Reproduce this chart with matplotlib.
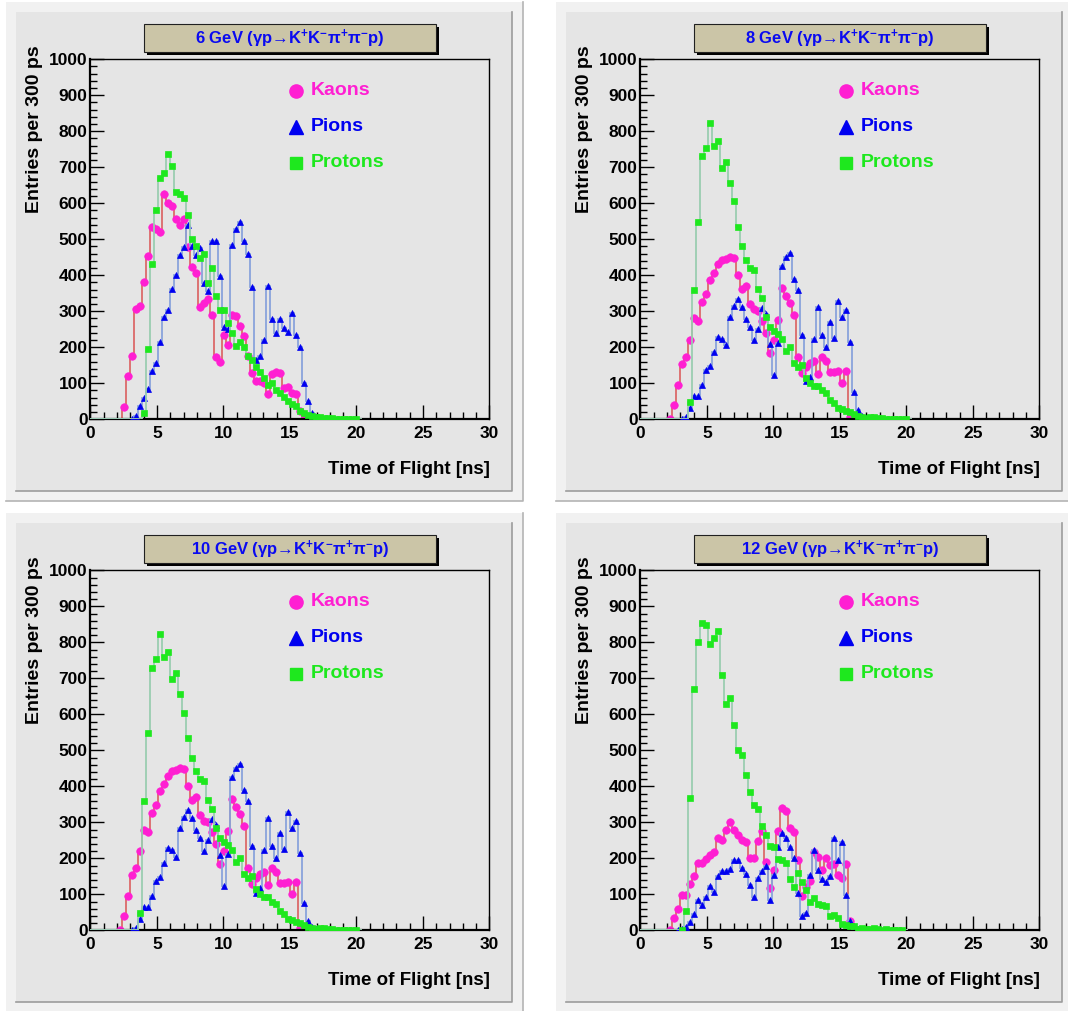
import numpy as np
import matplotlib
matplotlib.use("Agg")
import matplotlib.pyplot as plt
from matplotlib.patches import Rectangle
from matplotlib.lines import Line2D

plt.rcParams['font.family'] = ['Liberation Sans', 'DejaVu Sans']
plt.rcParams['font.weight'] = 'bold'
plt.rcParams['mathtext.fontset'] = 'custom'
plt.rcParams['mathtext.rm'] = 'Liberation Sans:bold'
plt.rcParams['mathtext.bf'] = 'Liberation Sans:bold'
plt.rcParams['mathtext.default'] = 'bf'

W, H = 1068, 1011
bin_w = 0.3  # ns per bin (300 ps)

beam_energies = ['6', '8', '10', '12']

# entries per bin; *_first is the index of the first listed bin
kaons_6_first = 8
kaons_6 = [35, 120, 177, 307, 315, 382, 454, 533, 528, 521, 626, 602, 592, 557, 539,
           557, 478, 424, 406, 313, 323, 335, 291, 174, 158, 234, 205, 289, 287, 260,
           231, 175, 128, 105, 105, 100, 70, 125, 131, 128, 86, 91, 72, 70, 24, 1]
pions_6_first = 10
pions_6 = [1, 10, 36, 59, 85, 133, 157, 214, 283, 303, 361, 401, 456, 478, 541, 481,
           456, 475, 379, 355, 494, 495, 399, 255, 250, 483, 529, 547, 494, 458, 368,
           166, 176, 220, 370, 278, 241, 278, 253, 243, 296, 234, 200, 100, 51, 17, 5, 2]
protons_6_first = 13
protons_6 = [17, 195, 431, 580, 670, 685, 736, 704, 630, 626, 614, 568, 501, 480, 447,
             459, 378, 419, 342, 304, 304, 268, 241, 204, 215, 200, 175, 166, 146, 132,
             116, 95, 102, 81, 72, 63, 52, 42, 37, 23, 17, 12, 8, 6, 5, 4, 3, 3, 2, 2,
             2, 1, 1, 2]

kaons_8_first = 7
kaons_8 = [1, 39, 96, 154, 173, 220, 280, 272, 327, 348, 386, 407, 430, 443, 445, 452,
           449, 400, 363, 371, 321, 305, 300, 272, 240, 183, 220, 277, 364, 342, 324,
           291, 172, 129, 146, 157, 163, 125, 174, 163, 131, 131, 133, 102, 135, 7, 1]
pions_8_first = 10
pions_8 = [1, 7, 32, 66, 66, 94, 136, 147, 186, 229, 222, 205, 284, 314, 334, 313, 279,
           257, 219, 250, 310, 292, 209, 123, 211, 427, 452, 463, 390, 358, 234, 105,
           118, 222, 313, 234, 202, 269, 227, 329, 285, 304, 214, 76, 26, 9, 3]
protons_8_first = 12
protons_8 = [49, 359, 547, 730, 753, 822, 760, 774, 697, 714, 657, 605, 535, 480, 443,
             419, 415, 362, 336, 285, 257, 245, 237, 223, 189, 200, 156, 146, 151, 114,
             102, 93, 93, 80, 74, 54, 46, 31, 28, 23, 19, 14, 9, 6, 4, 6, 6, 3, 3, 2, 2,
             2, 2, 2, 2]

kaons_10_first = 7
kaons_10 = [1, 39, 96, 154, 173, 220, 280, 272, 327, 348, 386, 407, 430, 443, 445, 452,
            449, 400, 363, 371, 321, 305, 300, 272, 240, 183, 220, 277, 364, 342, 324,
            291, 172, 129, 146, 157, 163, 125, 174, 163, 131, 131, 133, 102, 135, 7, 1]
pions_10_first = 10
pions_10 = [1, 7, 32, 66, 66, 94, 136, 147, 186, 229, 222, 205, 284, 314, 334, 313, 279,
            257, 219, 250, 310, 292, 209, 123, 211, 427, 452, 463, 390, 358, 234, 105,
            118, 222, 313, 234, 202, 269, 227, 329, 285, 304, 214, 76, 26, 9, 3]
protons_10_first = 12
protons_10 = [49, 359, 547, 730, 753, 822, 760, 774, 697, 714, 657, 605, 535, 480, 443,
              419, 415, 362, 336, 285, 257, 245, 237, 223, 189, 200, 156, 146, 151, 114,
              102, 93, 93, 80, 74, 54, 46, 31, 28, 23, 19, 14, 9, 6, 4, 6, 6, 3, 3, 2, 2,
              2, 2, 2, 2]

kaons_12_first = 7
kaons_12 = [2, 34, 59, 97, 97, 129, 150, 187, 187, 198, 208, 218, 256, 252, 280, 302,
            279, 266, 252, 244, 200, 202, 249, 275, 190, 118, 168, 276, 341, 332, 284,
            273, 196, 94, 120, 136, 217, 205, 167, 201, 182, 185, 155, 145, 185, 25, 1]
pions_12_first = 9
pions_12 = [1, 4, 9, 22, 46, 83, 71, 93, 122, 106, 150, 164, 164, 169, 194, 194, 173,
            157, 127, 93, 145, 164, 180, 83, 155, 231, 270, 256, 231, 201, 104, 39, 48,
            155, 222, 167, 143, 133, 150, 256, 194, 244, 99, 25, 11, 4]
protons_12_first = 10
protons_12 = [1, 55, 368, 669, 801, 854, 847, 796, 812, 831, 710, 630, 645, 571, 502,
              486, 432, 383, 349, 337, 291, 266, 234, 232, 199, 195, 186, 143, 119, 158,
              134, 113, 80, 89, 74, 71, 68, 40, 43, 33, 18, 16, 13, 11, 4, 6, 5, 4, 6, 5,
              2, 3, 2, 2, 2, 2]

species = ['Kaons', 'Pions', 'Protons']
marker_shapes = ['o', '^', 's']
marker_colors = ['#ff1fd2', '#0000f0', '#1ee81e']
line_colors = ['#dc6a6a', '#8aa3dc', '#9acdb0']
marker_px = [5.4, 4.8, 4.4]

panels = [
    ((kaons_6_first, kaons_6), (pions_6_first, pions_6), (protons_6_first, protons_6)),
    ((kaons_8_first, kaons_8), (pions_8_first, pions_8), (protons_8_first, protons_8)),
    ((kaons_10_first, kaons_10), (pions_10_first, pions_10), (protons_10_first, protons_10)),
    ((kaons_12_first, kaons_12), (pions_12_first, pions_12), (protons_12_first, protons_12)),
]
offsets = [(0, 0), (550, 0), (0, 511), (550, 511)]


def fx(x):
    return x / W


def fy(y):
    return 1 - y / H


def box(fig, x0, y0, x1, y1, face, edge=None, z=-5, lw=1.0):
    r = Rectangle((fx(x0), fy(y1)), fx(x1) - fx(x0), fy(y0) - fy(y1),
                  transform=fig.transFigure, facecolor=face,
                  edgecolor=edge if edge else 'none', lw=lw, zorder=z)
    fig.add_artist(r)


def shade(fig, x0, y0, x1, y1, col, z=-4):
    # darker right and bottom edges of a pad
    fig.add_artist(Line2D([fx(x1), fx(x1), fx(x0)], [fy(y0), fy(y1), fy(y1)],
                          transform=fig.transFigure, color=col, lw=1.2, zorder=z))


def draw_hist(ax, first, vals, i):
    vals = np.asarray(vals, dtype=float)
    full = np.zeros(first + len(vals) + 1)
    full[first:first + len(vals)] = vals
    edges = np.arange(len(full) + 1) * bin_w
    ax.stairs(full, edges, baseline=None, color=line_colors[i], lw=1.3, zorder=2 + i)
    centers = (np.arange(first, first + len(vals)) + 0.5) * bin_w
    ax.plot(centers, vals, ls='none', marker=marker_shapes[i], ms=marker_px[i],
            mfc=marker_colors[i], mec=marker_colors[i], mew=0.5, zorder=2.5 + i)


fig = plt.figure(figsize=(W / 100, H / 100), dpi=100)
fig.patch.set_facecolor('white')

for p, (dx, dy) in enumerate(offsets):
    # outer frame and inner pad
    box(fig, 6 + dx, 2 + dy, 523 + dx, 501 + dy, '#f1f1f1', z=-6)
    shade(fig, 6 + dx, 2 + dy, 523 + dx, 501 + dy, '#b4b4b4', z=-5.5)
    box(fig, 16 + dx, 12 + dy, 512 + dx, 491 + dy, '#e5e5e5', z=-5)
    shade(fig, 16 + dx, 12 + dy, 512 + dx, 491 + dy, '#9c9c9c', z=-4.5)

    # title box with drop shadow
    box(fig, 147 + dx, 27 + dy, 439 + dx, 55 + dy, '#000000', z=1)
    box(fig, 144 + dx, 24 + dy, 436 + dx, 52 + dy, '#cbc5a7', edge='#202020', z=2, lw=0.8)
    title = beam_energies[p] + r' GeV (γp→K$^{+}$K$^{-}$π$^{+}$π$^{-}$p)'
    fig.text(fx(290 + dx), fy(39 + dy), title, ha='center', va='center',
             fontsize=12, color='#0a0af0', fontweight='bold', zorder=3)

    ax = fig.add_axes([fx(90.4 + dx), fy(419.3 + dy), 399 / W, 360 / H])
    ax.set_facecolor('#e5e5e5')
    for i, (first, vals) in enumerate(panels[p]):
        draw_hist(ax, first, vals, i)

    ax.set_xlim(0, 30)
    ax.set_ylim(0, 1000)
    ax.set_xticks(np.arange(0, 31, 5))
    ax.set_xticks(np.arange(0, 31, 1), minor=True)
    ax.set_yticks(np.arange(0, 1001, 100))
    ax.set_yticks(np.arange(0, 1001, 20), minor=True)
    ax.tick_params(which='both', direction='in', top=False, right=False,
                   labelsize=12.5, width=1.0, color='black')
    ax.tick_params(which='major', length=10)
    ax.tick_params(which='minor', length=5)
    ax.tick_params(axis='y', pad=2)
    ax.tick_params(axis='x', pad=5)
    for lab in ax.get_xticklabels() + ax.get_yticklabels():
        lab.set_fontweight('bold')
    for s in ['left', 'bottom']:
        ax.spines[s].set_linewidth(1.6)
    for s in ['top', 'right']:
        ax.spines[s].set_linewidth(1.0)

    ax.text(-0.141, 1.04, 'Entries per 300 ps', transform=ax.transAxes, rotation=90,
            ha='center', va='top', fontsize=14, fontweight='bold')
    ax.text(1.0, -0.14, 'Time of Flight [ns]', transform=ax.transAxes,
            ha='right', va='center', fontsize=13.5, fontweight='bold')

    # legend entries
    for i, name in enumerate(species):
        ly = 912 - 100 * i
        ax.plot([15.46], [ly], ls='none', marker=marker_shapes[i],
                ms=[9.5, 10, 8.5][i], color=marker_colors[i], clip_on=False, zorder=6)
        ax.text(16.6, ly, name, ha='left', va='center', fontsize=14,
                fontweight='bold', color=marker_colors[i], zorder=6)

fig.savefig('out.png', dpi=100, facecolor=fig.get_facecolor())
